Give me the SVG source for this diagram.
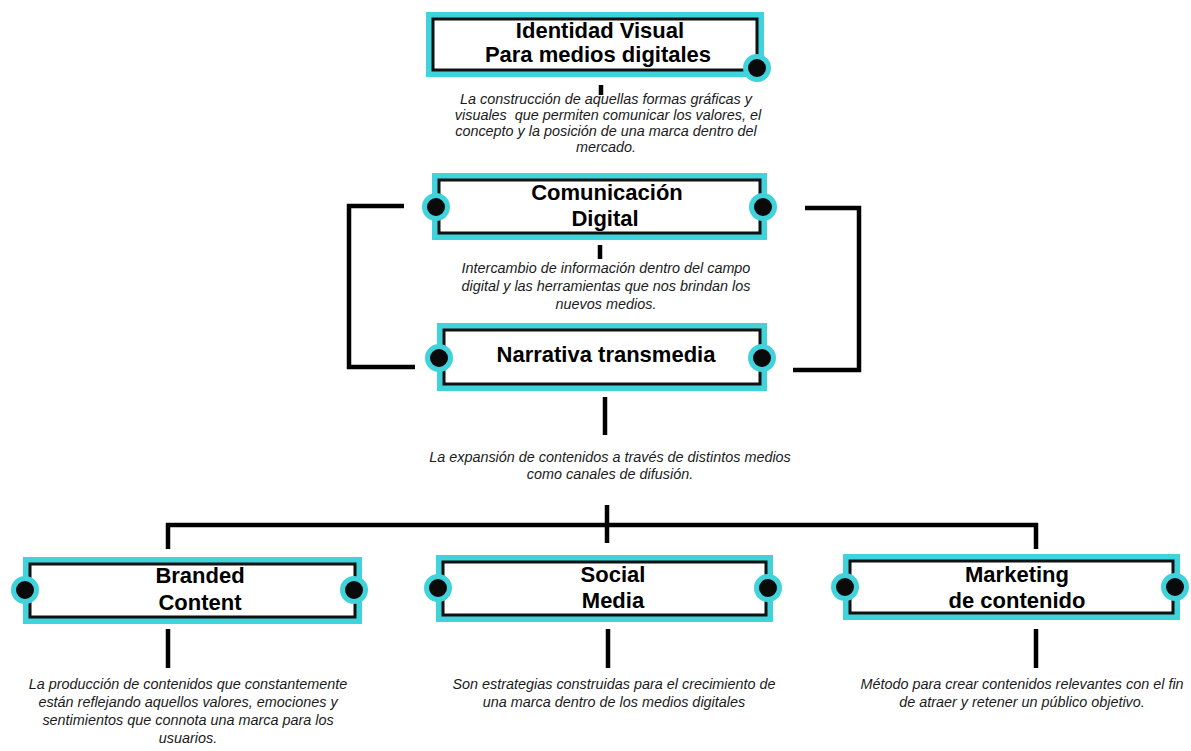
<svg xmlns="http://www.w3.org/2000/svg" width="1191" height="751" viewBox="0 0 1191 751">
<style>
.frame{fill:#41d3dc}
.inner{fill:#fff;stroke:#111;stroke-width:3}
.dot{fill:#0a0a0a;stroke:#41d3dc;stroke-width:5}
.title{font-family:"Liberation Sans",Arial,sans-serif;font-weight:bold;font-size:22px;fill:#000;text-anchor:middle}
.desc{font-family:"Liberation Sans",Arial,sans-serif;font-style:italic;font-size:14.4px;fill:#1a1a1a;text-anchor:middle;white-space:pre}
.ln{stroke:#000;stroke-width:4.5;fill:none}
</style>
<rect width="1191" height="751" fill="#fff"/>
<g id="connectors">
<line class="ln" x1="601" y1="85" x2="601" y2="95"/>
<line class="ln" x1="600" y1="245" x2="600" y2="259"/>
<polyline class="ln" points="404,206 349,206 349,367 415,367"/>
<polyline class="ln" points="805,208 859,208 859,370 793,370"/>
<line class="ln" x1="605" y1="397" x2="605" y2="435"/>
<line class="ln" x1="166" y1="525" x2="1038" y2="525"/>
<line class="ln" x1="607" y1="505" x2="607" y2="543"/>
<line class="ln" x1="168" y1="523" x2="168" y2="549"/>
<line class="ln" x1="1036" y1="523" x2="1036" y2="549"/>
<line class="ln" x1="168" y1="629" x2="168" y2="668"/>
<line class="ln" x1="608" y1="629" x2="608" y2="668"/>
<line class="ln" x1="1036" y1="629" x2="1036" y2="668"/>
</g>
<g id="identidad">
<rect class="frame" x="426" y="12" width="338" height="65"/>
<rect class="inner" x="433" y="19" width="324" height="51"/>
<circle class="dot" cx="757" cy="68" r="11.5"/>
<text class="title" x="600" y="38">Identidad Visual</text>
<text class="title" x="598" y="62">Para medios digitales</text>
</g>
<g id="desc-identidad">
<text class="desc" x="606" y="104">La construcción de aquellas formas gráficas y</text>
<text class="desc" x="608" y="120" xml:space="preserve">visuales  que permiten comunicar los valores, el</text>
<text class="desc" x="606" y="136">concepto y la posición de una marca dentro del</text>
<text class="desc" x="606" y="152">mercado.</text>
</g>
<g id="comunicacion">
<rect class="frame" x="432" y="173" width="335" height="67"/>
<rect class="inner" x="439" y="180" width="321" height="53"/>
<circle class="dot" cx="436" cy="207" r="11.5"/>
<circle class="dot" cx="763" cy="207" r="11.5"/>
<text class="title" x="607" y="200">Comunicación</text>
<text class="title" x="605" y="226">Digital</text>
</g>
<g id="desc-comunicacion">
<text class="desc" x="606" y="273">Intercambio de información dentro del campo</text>
<text class="desc" x="606" y="291">digital y las herramientas que nos brindan los</text>
<text class="desc" x="606" y="309">nuevos medios.</text>
</g>
<g id="narrativa">
<rect class="frame" x="437" y="323" width="330" height="68"/>
<rect class="inner" x="444" y="330" width="316" height="54"/>
<circle class="dot" cx="439" cy="358" r="11.5"/>
<circle class="dot" cx="762" cy="358" r="11.5"/>
<text class="title" x="606" y="362">Narrativa transmedia</text>
</g>
<g id="desc-narrativa">
<text class="desc" x="610" y="462">La expansión de contenidos a través de distintos medios</text>
<text class="desc" x="610" y="479">como canales de difusión.</text>
</g>
<g id="branded">
<rect class="frame" x="23" y="557" width="339" height="67"/>
<rect class="inner" x="30" y="564" width="325" height="53"/>
<circle class="dot" cx="25" cy="590" r="11.5"/>
<circle class="dot" cx="354" cy="590" r="11.5"/>
<text class="title" x="200" y="583">Branded</text>
<text class="title" x="200" y="610">Content</text>
</g>
<g id="desc-branded">
<text class="desc" x="188" y="689">La producción de contenidos que constantemente</text>
<text class="desc" x="188" y="707">están reflejando aquellos valores, emociones y</text>
<text class="desc" x="188" y="725">sentimientos que connota una marca para los</text>
<text class="desc" x="188" y="743">usuarios.</text>
</g>
<g id="social">
<rect class="frame" x="436" y="555" width="337" height="67"/>
<rect class="inner" x="443" y="562" width="323" height="53"/>
<circle class="dot" cx="438" cy="588" r="11.5"/>
<circle class="dot" cx="768" cy="588" r="11.5"/>
<text class="title" x="613" y="582">Social</text>
<text class="title" x="613" y="608">Media</text>
</g>
<g id="desc-social">
<text class="desc" x="614" y="689">Son estrategias construidas para el crecimiento de</text>
<text class="desc" x="614" y="707">una marca dentro de los medios digitales</text>
</g>
<g id="marketing">
<rect class="frame" x="843" y="554" width="337" height="66"/>
<rect class="inner" x="850" y="561" width="323" height="52"/>
<circle class="dot" cx="845" cy="587" r="11.5"/>
<circle class="dot" cx="1175" cy="587" r="11.5"/>
<text class="title" x="1017" y="582">Marketing</text>
<text class="title" x="1017" y="608">de contenido</text>
</g>
<g id="desc-marketing">
<text class="desc" x="1022" y="689">Método para crear contenidos relevantes con el fin</text>
<text class="desc" x="1022" y="707">de atraer y retener un público objetivo.</text>
</g>
</svg>
